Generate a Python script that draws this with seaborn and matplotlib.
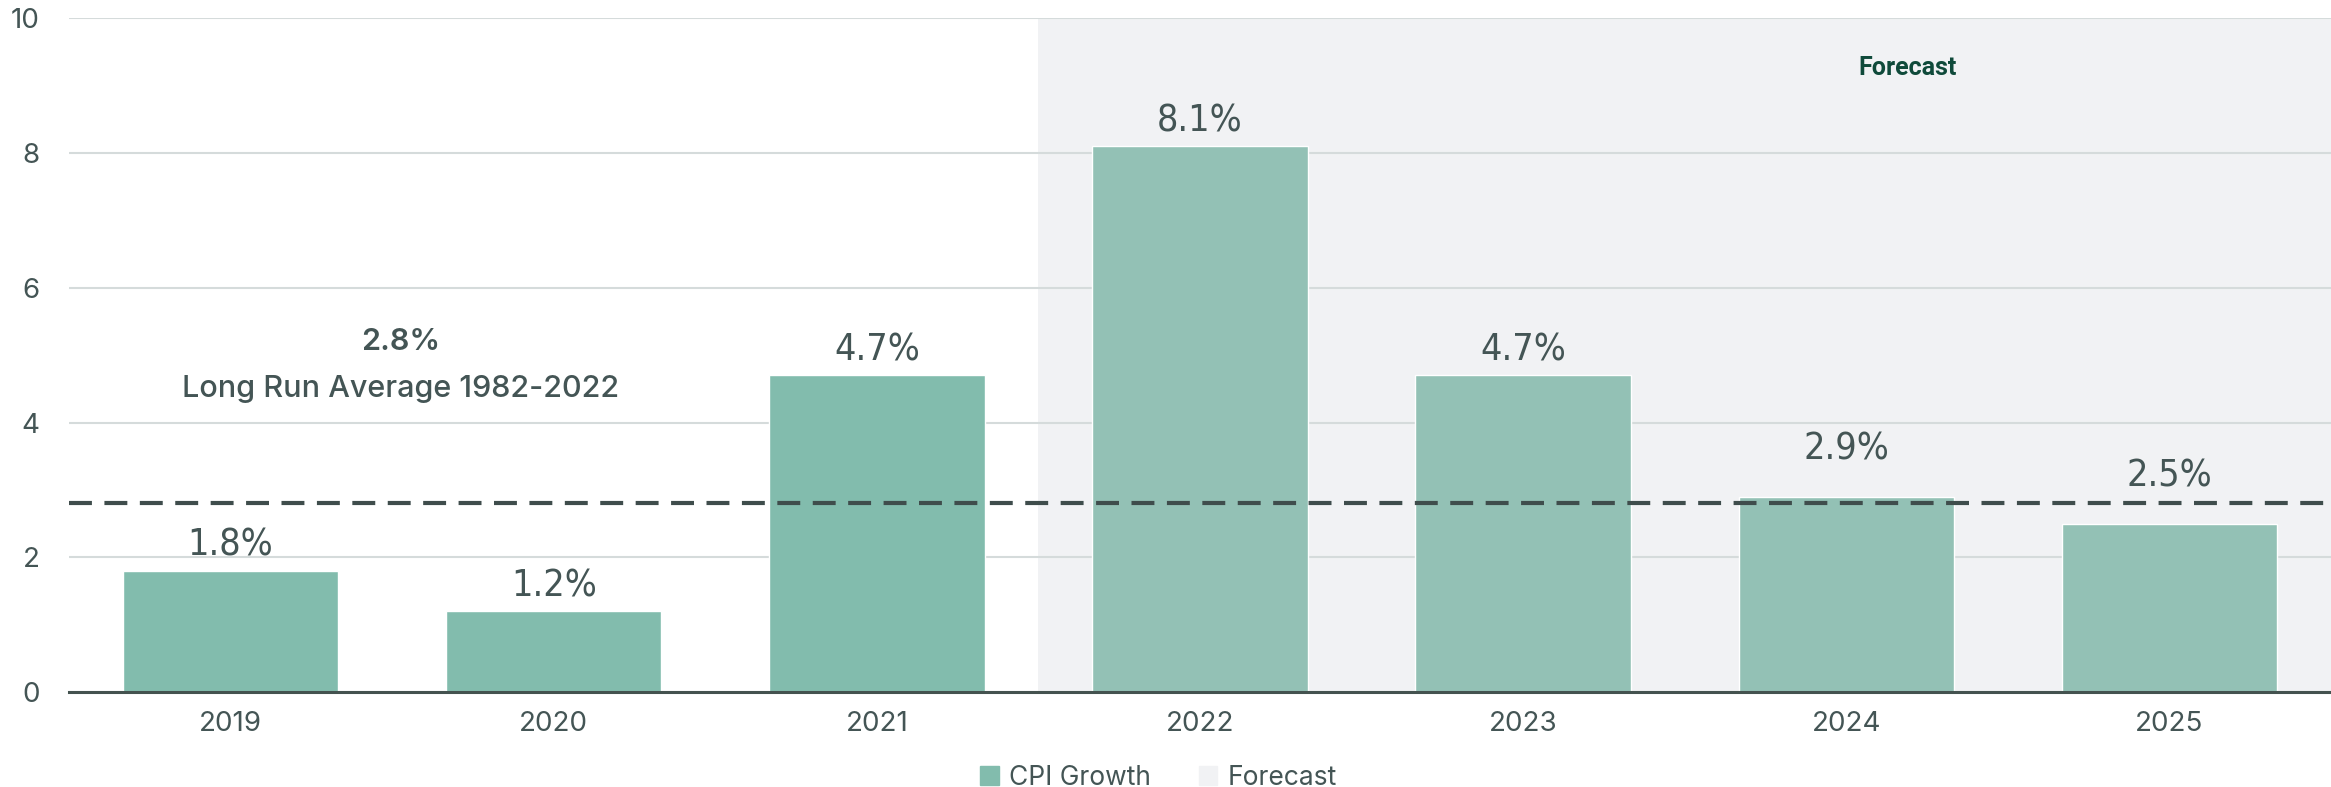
import matplotlib
matplotlib.use("Agg")
import matplotlib.pyplot as plt
import pandas as pd
import seaborn as sns
from matplotlib.patches import Patch

years = ["2019", "2020", "2021", "2022", "2023", "2024", "2025"]
cpi_growth = [1.8, 1.2, 4.7, 8.1, 4.7, 2.9, 2.5]
is_forecast = [False, False, False, True, True, True, True]
long_run_avg = 2.8
y_ticks = [0, 2, 4, 6, 8, 10]

hist_color = "#82BCAD"
fcst_color = "#93C1B5"
shade_color = "#F1F2F4"
text_color = "#445555"

df = pd.DataFrame({"year": years, "cpi": cpi_growth, "forecast": is_forecast})

sns.set_theme(style="white")
plt.rcParams["font.family"] = ["Inter", "DejaVu Sans"]

fig = plt.figure(figsize=(23.31, 7.87), dpi=100)
ax = fig.add_axes([0.0296, 0.1207, 0.9704, 0.8558])

# forecast shading
first_fc = is_forecast.index(True)
ax.axvspan(first_fc - 0.5, len(years) - 0.5, color=shade_color, zorder=0, lw=0)

palette = {y: (fcst_color if f else hist_color) for y, f in zip(years, is_forecast)}
sns.barplot(data=df, x="year", y="cpi", hue="year", palette=palette, legend=False,
            width=0.667, saturation=1, ax=ax, zorder=2)

for i, v in enumerate(cpi_growth):
    # lift labels that would sit on the dashed average line
    off = 0.55 if abs(v - long_run_avg) < 0.5 else 0.22
    ax.text(i, v + off, f"{v:.1f}%", ha="center", va="baseline", fontsize=27,
            color=text_color, family=["DejaVu Sans"], fontstretch="condensed",
            fontweight="light", zorder=4)

ax.axhline(long_run_avg, color="#3F4D4C", lw=3, ls=(0, (5.5, 3)), zorder=3)

ax.text(0.525, 5.2, f"{long_run_avg:.1f}%", ha="center", va="center", fontsize=22,
        fontweight="semibold", color=text_color)
ax.text(0.525, 4.5, "Long Run Average 1982-2022", ha="center", va="center", fontsize=22,
        fontweight="medium", color=text_color)
ax.text(5.19, 9.27, "Forecast", ha="center", va="center", fontsize=18,
        fontweight="bold", color="#0F4A3A", family=["Roboto", "DejaVu Sans"])

ax.set_xlim(-0.5, len(years) - 0.5)
ax.set_ylim(0, 10)
ax.set_yticks(y_ticks)
ax.yaxis.grid(True, color="#D5DBDB", lw=1.5, zorder=1)
ax.set_axisbelow(True)
ax.set_xlabel("")
ax.set_ylabel("")
for s in ["top", "right", "left"]:
    ax.spines[s].set_visible(False)
ax.spines["bottom"].set_color("#44524F")
ax.spines["bottom"].set_linewidth(2.2)
ax.spines["bottom"].set_zorder(5)
ax.tick_params(axis="y", length=0, pad=21, labelsize=20, labelcolor=text_color)
ax.tick_params(axis="x", length=0, pad=14, labelsize=20, labelcolor=text_color)

handles = [Patch(color=hist_color, label="CPI Growth"), Patch(color=shade_color, label="Forecast")]
fig.legend(handles=handles, loc="lower center", bbox_to_anchor=(0.497, -0.035), ncol=2,
           frameon=False, fontsize=19, handlelength=0.7, handleheight=0.7,
           handletextpad=0.4, columnspacing=1.8, labelcolor=text_color)

fig.savefig("out.png", dpi=100)
